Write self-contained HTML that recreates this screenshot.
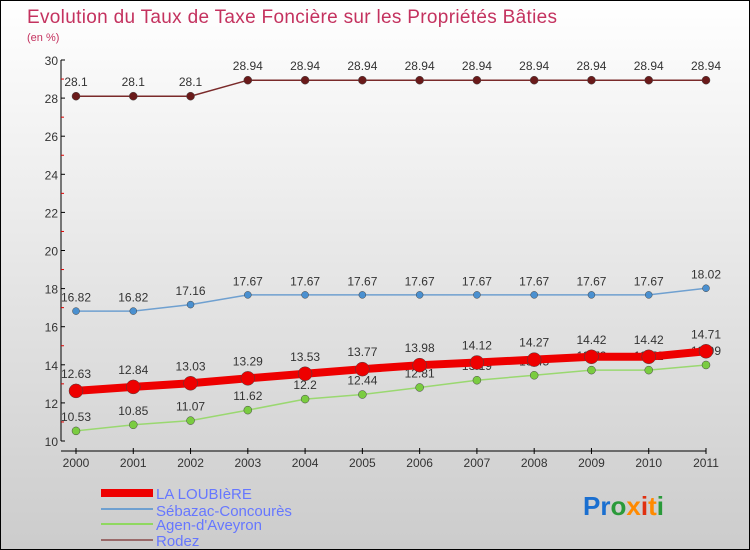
<!DOCTYPE html>
<html><head><meta charset="utf-8"><style>
body{margin:0}
#c{position:relative;width:748px;height:548px;border:1px solid #000;background:linear-gradient(#fff,#ccc);font-family:"Liberation Sans",sans-serif;overflow:hidden}
svg text{font-family:"Liberation Sans",sans-serif}
</style></head><body>
<div id="c">
<svg width="748" height="548" id="s">
<text x="26" y="22" font-size="19" fill="#c4325f" textLength="530">Evolution du Taux de Taxe Foncière sur les Propriétés Bâties</text>
<text x="26" y="40" font-size="11" fill="#c4325f">(en %)</text>
<g id="axes"></g><g id="series"></g>
<g>
<rect x="100" y="488" width="52" height="8" fill="#e00"/>
<text x="155" y="498" font-size="15" fill="#6677ff">LA LOUBIèRE</text>
<rect x="100" y="507" width="52" height="2" fill="#6fa0d0"/>
<text x="155" y="515" font-size="15" fill="#6677ff">Sébazac-Concourès</text>
<rect x="100" y="522" width="52" height="2" fill="#8fd860"/>
<text x="155" y="529" font-size="15" fill="#6677ff">Agen-d'Aveyron</text>
<rect x="100" y="538" width="52" height="2" fill="#9a6a6a"/>
<text x="155" y="545" font-size="15" fill="#6677ff">Rodez</text>
</g>
<text x="582" y="514" font-size="26" font-weight="bold"><tspan fill="#1a6fd0">Pr</tspan><tspan fill="#2a9a3a">o</tspan><tspan fill="#ff8a00">x</tspan><tspan fill="#e03010">i</tspan><tspan fill="#ff8a00">t</tspan><tspan fill="#2a9a3a">i</tspan></text>
</svg></div>
<script>
const years=[2000,2001,2002,2003,2004,2005,2006,2007,2008,2009,2010,2011];
const yTicks=[10,12,14,16,18,20,22,24,26,28,30];
const laLoubiere=[12.63,12.84,13.03,13.29,13.53,13.77,13.98,14.12,14.27,14.42,14.42,14.71];
const sebazac=[16.82,16.82,17.16,17.67,17.67,17.67,17.67,17.67,17.67,17.67,17.67,18.02];
const agen=[10.53,10.85,11.07,11.62,12.2,12.44,12.81,13.19,13.45,13.72,13.72,13.99];
const rodez=[28.1,28.1,28.1,28.94,28.94,28.94,28.94,28.94,28.94,28.94,28.94,28.94];
const NS="http://www.w3.org/2000/svg";
const X=i=>75+i*(630/11), Y=v=>440-(v-10)*(381/20);
function mk(t,a,p){const e=document.createElementNS(NS,t);for(const k in a)e.setAttribute(k,a[k]);p.appendChild(e);return e;}
const ax=document.getElementById('axes'), sg=document.getElementById('series');
let l=mk('line',{x1:60,y1:Y(30),x2:60,y2:Y(10),stroke:'#000'},ax);


l=mk('line',{x1:60,y1:450,x2:705,y2:450,stroke:'#000'},ax);


yTicks.forEach(v=>{mk('line',{x1:60,y1:Y(v),x2:64,y2:Y(v),stroke:'#000'},ax);
 if(v<30)mk('line',{x1:60,y1:Y(v+1),x2:63,y2:Y(v+1),stroke:'#d00'},ax);
 const t=mk('text',{x:57,y:Y(v)+5,'font-size':12,fill:'#333','text-anchor':'end'},ax);t.textContent=v;
 
 });
years.forEach((y,i)=>{mk('line',{x1:X(i),y1:447,x2:X(i),y2:453,stroke:'#000'},ax);
 const t=mk('text',{x:X(i),y:466,'font-size':12,fill:'#333','text-anchor':'middle'},ax);t.textContent=y;
 
 });
function series(d,name,col,w,r,dot){
 const p=mk('polyline',{points:d.map((v,i)=>X(i)+','+Y(v)).join(' '),fill:'none',stroke:col,'stroke-width':w},sg);
 
 
 d.forEach((v,i)=>{const c=mk('circle',{cx:X(i),cy:Y(v),r:r,fill:dot,stroke:'#444','stroke-width':0.5},sg);
  
  
  const t=mk('text',{x:X(i),y:Y(v)-r-6,'font-size':12,fill:'#333','text-anchor':'middle'},sg);t.textContent=v;
  
  });
}
series(rodez,'rodez','#7a2a2a',1.5,4,'#6a1a1a');
series(sebazac,'sebazac','#6fa0d0',1.5,3.5,'#4a90d0');
series(agen,'agen','#9ad870',1.5,4,'#7acc40');
series(laLoubiere,'la-loubiere','#e00',8,7,'#e00');
</script>
</body></html>
